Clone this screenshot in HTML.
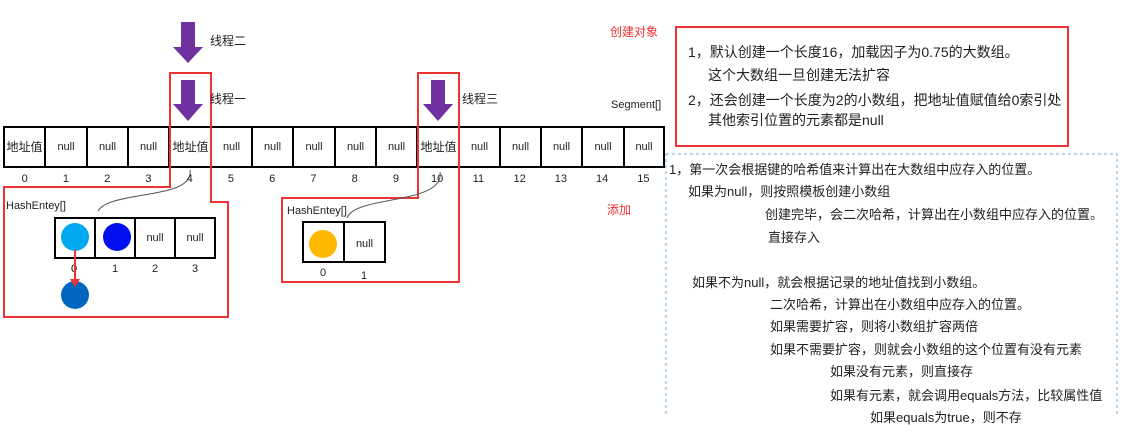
<!DOCTYPE html>
<html><head><meta charset="utf-8"><style>
body{margin:0;width:1121px;height:416px;background:#fff;position:relative;overflow:hidden;font-family:"Liberation Sans","Noto Sans CJK SC",sans-serif;color:#222}
.t{position:absolute;font-size:12px;white-space:nowrap;line-height:14px}
.r{color:#e33}
.b{font-size:14px;line-height:16px}
.d{font-size:13px;line-height:15px}
</style></head><body>
<svg width="1121" height="416" style="position:absolute;left:0;top:0">
<g fill="#7030a0">
<polygon points="181,22 195,22 195,47 203,47 188,63 173,47 181,47"/>
<polygon points="181,80 195,80 195,104 203,104 188,121 173,104 181,104"/>
<polygon points="431,80 445,80 445,104 453,104 438,121 423,104 431,104"/>
</g>
<g stroke="#000" stroke-width="2" fill="none">
<rect x="4" y="127" width="660" height="40"/>
<path d="M45,127V167M87,127V167M128,127V167M169,127V167M211,127V167M252,127V167M293,127V167M335,127V167M376,127V167M417,127V167M459,127V167M500,127V167M541,127V167M582,127V167M624,127V167"/>
<rect x="55" y="218" width="160" height="40"/>
<path d="M95,218V258M135,218V258M175,218V258"/>
<rect x="303" y="222" width="82" height="40"/>
<path d="M344,222V262"/>
</g>
<g stroke="#e33" stroke-width="2" fill="none">
<polygon points="170,73 211,73 211,202 228,202 228,317 4,317 4,187 170,187"/>
<polygon points="418,73 459,73 459,282 282,282 282,198 418,198"/>
<rect x="676" y="27" width="392" height="119"/>
</g>
<rect x="666" y="154" width="451" height="270" fill="none" stroke="#6ab0e0" stroke-dasharray="3,3"/>
<g stroke="#555" fill="none">
<path d="M190,170 C195,200 110,190 98,211"/>
<path d="M440,172 C445,205 355,195 347,218"/>
</g>
<circle cx="75" cy="237" r="14" fill="#00a8f0"/>
<circle cx="117" cy="237" r="14" fill="#0010ee"/>
<circle cx="75" cy="295" r="14" fill="#0066c0"/>
<circle cx="323" cy="244" r="14" fill="#ffb800"/>
<text x="71" y="272" font-size="11" font-family="Liberation Sans">0</text>
<path d="M75,250V283" stroke="#e33" stroke-width="2"/>
<polygon points="70,279 80,279 75,287" fill="#e33"/>
</svg>
<div class="t" style="left:210px;top:34px">线程二</div>
<div class="t" style="left:210px;top:92px">线程一</div>
<div class="t" style="left:462px;top:92px">线程三</div>
<div class="t" style="left:611px;top:98px;font-size:11px">Segment[]</div>
<div class="t r" style="left:610px;top:25px">创建对象</div>
<div class="t r" style="left:607px;top:203px">添加</div>
<div class="t" style="top:140px;width:41px;text-align:center;left:4px">地址值</div>
<div class="t" style="left:170px;top:140px;width:41px;text-align:center">地址值</div>
<div class="t" style="left:418px;top:140px;width:41px;text-align:center">地址值</div>
<div class="t" style="left:45px;top:140px;width:42px;text-align:center;font-size:11px">null</div>
<div class="t" style="left:87px;top:140px;width:41px;text-align:center;font-size:11px">null</div>
<div class="t" style="left:128px;top:140px;width:41px;text-align:center;font-size:11px">null</div>
<div class="t" style="left:211px;top:140px;width:41px;text-align:center;font-size:11px">null</div>
<div class="t" style="left:252px;top:140px;width:41px;text-align:center;font-size:11px">null</div>
<div class="t" style="left:293px;top:140px;width:42px;text-align:center;font-size:11px">null</div>
<div class="t" style="left:335px;top:140px;width:41px;text-align:center;font-size:11px">null</div>
<div class="t" style="left:376px;top:140px;width:41px;text-align:center;font-size:11px">null</div>
<div class="t" style="left:459px;top:140px;width:41px;text-align:center;font-size:11px">null</div>
<div class="t" style="left:500px;top:140px;width:41px;text-align:center;font-size:11px">null</div>
<div class="t" style="left:541px;top:140px;width:41px;text-align:center;font-size:11px">null</div>
<div class="t" style="left:582px;top:140px;width:42px;text-align:center;font-size:11px">null</div>
<div class="t" style="left:624px;top:140px;width:40px;text-align:center;font-size:11px">null</div>
<div class="t" style="left:4px;top:172px;width:660px;display:flex;font-size:11px">
<span style="width:41.25px;text-align:center">0</span><span style="width:41.25px;text-align:center">1</span><span style="width:41.25px;text-align:center">2</span><span style="width:41.25px;text-align:center">3</span><span style="width:41.25px;text-align:center">4</span><span style="width:41.25px;text-align:center">5</span><span style="width:41.25px;text-align:center">6</span><span style="width:41.25px;text-align:center">7</span><span style="width:41.25px;text-align:center">8</span><span style="width:41.25px;text-align:center">9</span><span style="width:41.25px;text-align:center">10</span><span style="width:41.25px;text-align:center">11</span><span style="width:41.25px;text-align:center">12</span><span style="width:41.25px;text-align:center">13</span><span style="width:41.25px;text-align:center">14</span><span style="width:41.25px;text-align:center">15</span></div>
<div class="t" style="left:6px;top:199px;font-size:11px">HashEntey[]</div>
<div class="t" style="left:135px;top:231px;width:40px;text-align:center;font-size:11px">null</div>
<div class="t" style="left:175px;top:231px;width:40px;text-align:center;font-size:11px">null</div>
<div class="t" style="left:112px;top:262px;font-size:11px">1</div>
<div class="t" style="left:152px;top:262px;font-size:11px">2</div>
<div class="t" style="left:192px;top:262px;font-size:11px">3</div>
<div class="t" style="left:287px;top:204px;font-size:11px">HashEntey[]</div>
<div class="t" style="left:344px;top:237px;width:41px;text-align:center;font-size:11px">null</div>
<div class="t" style="left:320px;top:266px;font-size:11px">0</div>
<div class="t" style="left:361px;top:269px;font-size:11px">1</div>
<div class="t b" style="left:688px;top:44px">1，默认创建一个长度16，加载因子为0.75的大数组。</div>
<div class="t b" style="left:708px;top:67px">这个大数组一旦创建无法扩容</div>
<div class="t b" style="left:688px;top:92px">2，还会创建一个长度为2的小数组，把地址值赋值给0索引处</div>
<div class="t b" style="left:708px;top:112px">其他索引位置的元素都是null</div>
<div class="t d" style="left:669px;top:162px">1，第一次会根据键的哈希值来计算出在大数组中应存入的位置。</div>
<div class="t d" style="left:688px;top:184px">如果为null，则按照模板创建小数组</div>
<div class="t d" style="left:765px;top:207px">创建完毕，会二次哈希，计算出在小数组中应存入的位置。</div>
<div class="t d" style="left:768px;top:230px">直接存入</div>
<div class="t d" style="left:692px;top:275px">如果不为null，就会根据记录的地址值找到小数组。</div>
<div class="t d" style="left:770px;top:297px">二次哈希，计算出在小数组中应存入的位置。</div>
<div class="t d" style="left:770px;top:319px">如果需要扩容，则将小数组扩容两倍</div>
<div class="t d" style="left:770px;top:342px">如果不需要扩容，则就会小数组的这个位置有没有元素</div>
<div class="t d" style="left:830px;top:364px">如果没有元素，则直接存</div>
<div class="t d" style="left:830px;top:388px">如果有元素，就会调用equals方法，比较属性值</div>
<div class="t d" style="left:870px;top:410px">如果equals为true，则不存</div>
</body></html>
